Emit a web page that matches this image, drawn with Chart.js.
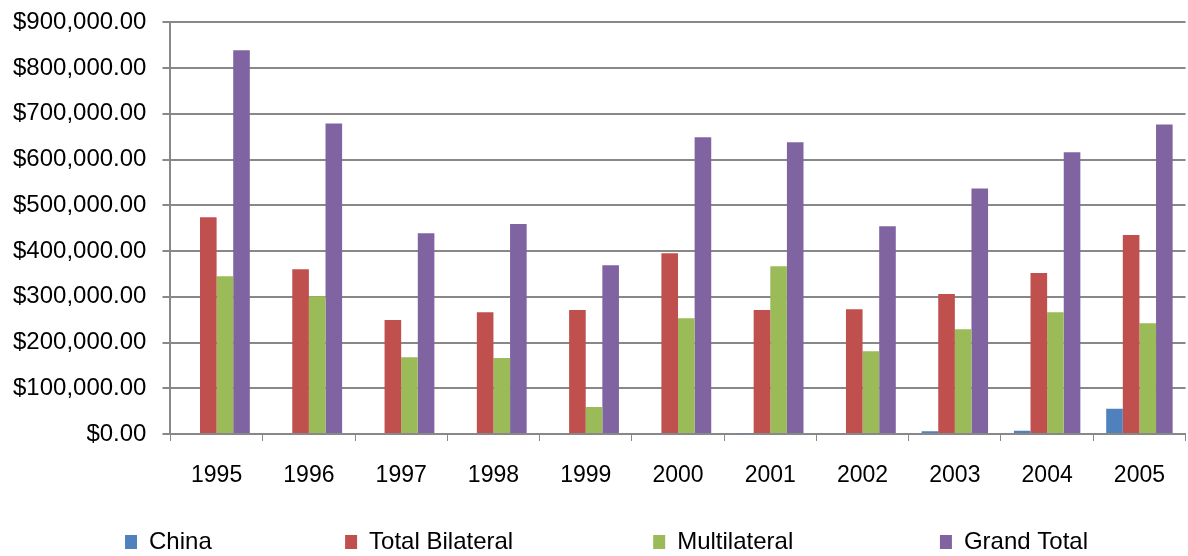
<!DOCTYPE html>
<html>
<head>
<meta charset="utf-8">
<script src="https://cdn.jsdelivr.net/npm/chart.js@4/dist/chart.umd.min.js"></script>
<style>
  html, body { margin: 0; padding: 0; background: #fff; overflow: hidden; }
  #wrap { width: 1188px; height: 564px; margin-top: -8px; }
</style>
</head>
<body>
<div id="wrap"><canvas id="myChart"></canvas></div>
<script>
// values
var years = ['1995','1996','1997','1998','1999','2000','2001','2002','2003','2004','2005'];
var china = [0, 0, 2000, 0, 2000, 0, 1500, 0, 6000, 7000, 55000];
var totalBilateral = [474000, 360000, 249000, 266000, 271000, 395000, 271000, 273000, 306000, 352000, 435000];
var multilateral = [345000, 301000, 168000, 166000, 59000, 253000, 367000, 181000, 229000, 266000, 242000];
var grandTotal = [839000, 679000, 439000, 459000, 369000, 649000, 638000, 454000, 537000, 616000, 677000];
var yTicks = [0, 100000, 200000, 300000, 400000, 500000, 600000, 700000, 800000, 900000];

function money(v) {
  return '$' + v.toLocaleString('en-US', { minimumFractionDigits: 2, maximumFractionDigits: 2 });
}

// trailing spaces widen the legend gaps the way excel spreads them
var legendGap = [17, 18, 19, 12];

Chart.defaults.font.family = '"Liberation Sans", Arial, sans-serif';
Chart.defaults.color = '#000';

var data = {
  labels: years,
  datasets: [
    { label: 'China', data: china, backgroundColor: '#4f81bd' },
    { label: 'Total Bilateral', data: totalBilateral, backgroundColor: '#c0504d' },
    { label: 'Multilateral', data: multilateral, backgroundColor: '#9bbb59' },
    { label: 'Grand Total', data: grandTotal, backgroundColor: '#8064a2' }
  ]
};

const myChart = new Chart(document.getElementById('myChart'), {
  type: 'bar',
  data: data,
  options: {
    responsive: true,
    maintainAspectRatio: false,
    animation: false,
    datasets: {
      bar: { categoryPercentage: 0.72, barPercentage: 1.0 }
    },
    layout: { padding: { left: -3, right: 0, top: 0, bottom: -8 } },
    plugins: {
      tooltip: { enabled: false },
      legend: {
        position: 'bottom',
        align: 'end',
        labels: {
          boxWidth: 12,
          boxHeight: 14,
          padding: 20,
          font: { size: 24 },
          color: '#000',
          generateLabels: function (chart) {
            var items = Chart.defaults.plugins.legend.labels.generateLabels(chart);
            items.forEach(function (it, i) {
              it.text = it.text + ' '.repeat(legendGap[i]);
            });
            return items;
          }
        }
      }
    },
    scales: {
      x: {
        grid: {
          offset: true,
          drawOnChartArea: false,
          drawTicks: true,
          tickLength: 7,
          color: '#888'
        },
        border: { color: '#888', width: 2 },
        ticks: { font: { size: 23, lineHeight: 1 }, padding: 23 }
      },
      y: {
        min: 0,
        max: 900000,
        afterBuildTicks: function (axis) {
          axis.ticks = yTicks.map(function (v) { return { value: v }; });
        },
        grid: { color: '#888', lineWidth: 2, tickLength: 8 },
        border: { color: '#888', width: 2 },
        ticks: {
          font: { size: 24 },
          padding: 16,
          callback: function (v) { return money(v); }
        }
      }
    }
  }
});
</script>
</body>
</html>
